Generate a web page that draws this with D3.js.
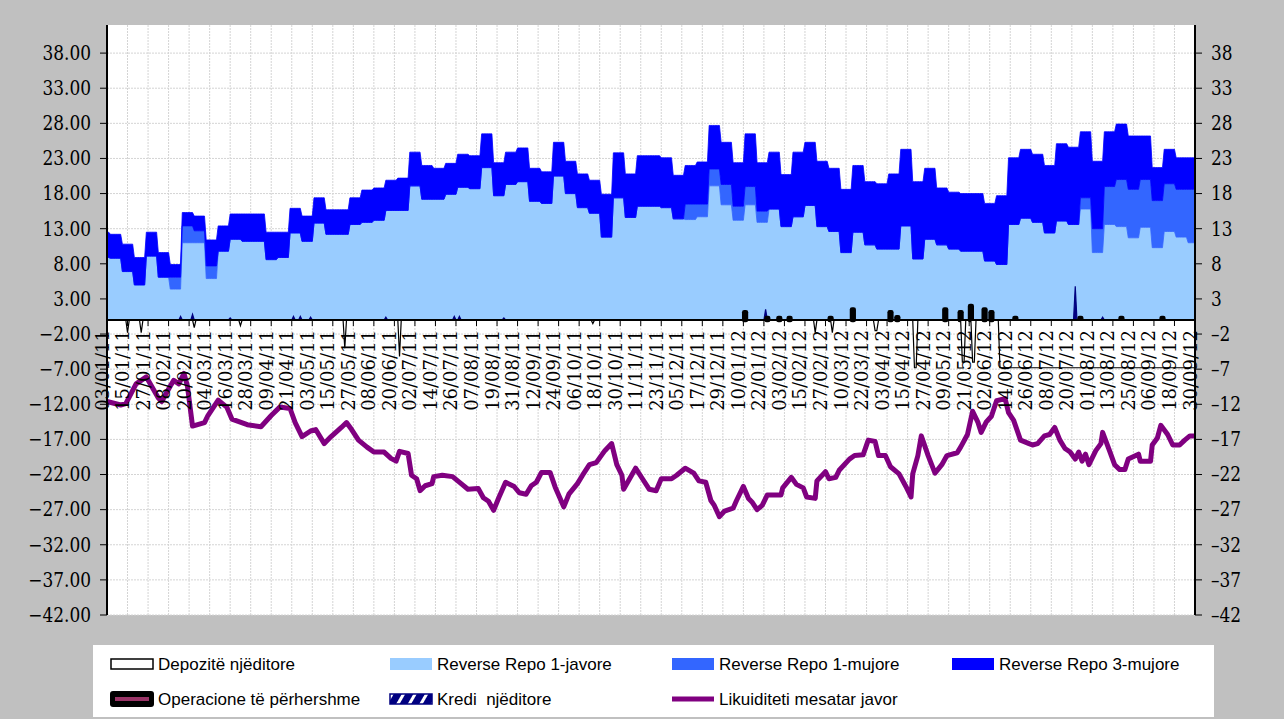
<!DOCTYPE html>
<html>
<head>
<meta charset="utf-8">
<script src="https://cdn.jsdelivr.net/npm/d3@7"></script>
<style>
  html, body { margin: 0; padding: 0; background: #c0c0c0; }
  svg { display: block; }
  .axis-num { font-family: "DejaVu Serif", serif; font-size: 17px; fill: #000; }
  .axis-date { font-family: "DejaVu Serif", serif; font-size: 18px; fill: #000; }
  .legend-text { font-family: "Liberation Sans", Arial, sans-serif; font-size: 17px; fill: #000; white-space: pre; }
</style>
</head>
<body>
<svg id="chart" width="1284" height="719"></svg>
<script>
// daily axis from 03/01/2011 to 30/09/2012, one value per week for the repo series
const startDate = new Date(2011, 0, 3);
const nDays = 637;
const labelStep = 12;
const yTicks = d3.range(-42, 39, 5);

// Reverse Repo 1-javore (weekly)
const repo1w = [8.9, 8.8, 6.9, 5.0, 9.1, 6.1, 4.4, 11.0, 11.0, 5.9,
  9.8, 11.5, 11.2, 11.2, 8.6, 8.9, 12.4, 11.2, 13.8, 12.2,
  12.2, 13.6, 13.9, 14.2, 15.6, 15.6, 19.1, 17.2, 17.2, 17.9,
  18.9, 18.7, 21.7, 17.7, 19.3, 19.7, 16.9, 16.6, 20.5, 18.0,
  16.0, 15.2, 11.8, 17.4, 14.6, 16.2, 16.2, 16.0, 14.4, 14.3,
  14.7, 19.1, 16.4, 14.2, 16.4, 13.9, 15.8, 13.3, 14.7, 16.3,
  13.3, 12.6, 9.6, 12.5, 10.7, 10.1, 10.1, 13.4, 8.7, 11.5,
  10.7, 10.1, 9.8, 9.8, 8.4, 7.9, 13.6, 14.5, 13.9, 12.4,
  14.1, 13.6, 15.8, 9.6, 13.6, 13.3, 11.7, 13.2, 10.3, 12.6,
  11.8, 11.0];

// Reverse Repo 1-mujore (weekly)
const repo1m = [0, 0, 0, 0, 0, 0, 1.7, 2.4, 1.7, 1.8,
  0, 0, 0, 0, 0, 0, 0, 0, 0, 0,
  0, 0, 0, 0, 0, 0, 0, 0, 0, 0,
  0, 0, 0, 0, 0, 0, 0, 0, 0, 0,
  0, 0, 0, 0, 0, 0, 0, 0, 0, 2.2,
  1.8, 2.4, 2.9, 2.0, 2.6, 1.6, 0, 0, 0, 0,
  0, 0, 0, 0, 0, 0, 0, 0, 0, 0,
  0, 0, 0, 0, 0, 0, 0, 0, 0, 0,
  0, 0, 1.6, 3.4, 5.4, 6.7, 6.9, 6.8, 6.7, 6.8,
  6.8, 7.6];

// Reverse Repo 3-mujore (weekly)
const repo3m = [3.6, 3.4, 3.9, 3.9, 3.4, 3.5, 1.8, 1.9, 2.1, 3.7,
  3.6, 3.6, 3.9, 3.9, 3.9, 3.6, 3.5, 3.6, 3.6, 3.5,
  3.5, 3.8, 4.6, 4.6, 4.3, 4.6, 4.8, 4.8, 4.4, 4.4,
  4.7, 4.7, 4.8, 4.7, 4.6, 4.8, 4.7, 4.5, 4.8, 4.6,
  4.8, 4.7, 6.1, 6.4, 6.2, 7.2, 7.2, 7.1, 6.2, 5.5,
  6.0, 6.2, 6.0, 6.2, 7.5, 6.9, 8.1, 7.4, 9.2, 9.0,
  9.3, 9.0, 9.0, 9.5, 9.0, 9.3, 10.7, 10.9, 11.0, 10.1,
  8.1, 8.1, 8.2, 8.2, 8.2, 9.8, 9.5, 9.8, 9.7, 9.6,
  11.0, 11.0, 9.4, 9.6, 7.8, 7.9, 7.6, 6.2, 4.7, 4.9,
  4.5, 4.5];

// Depozite njeditore: first day, last day, value
const depStart = [12, 20, 51, 78, 139, 171, 284, 414, 424, 449, 472, 500, 506, 522];
const depEnd   = [12, 20, 51, 78, 139, 171, 284, 414, 424, 450, 473, 501, 507, 636];
const depVal   = [-1.8, -1.8, -1.1, -0.8, -4.0, -5.2, -0.5, -1.8, -1.8, -1.5, -6.8, -6.0, -6.0, -6.8];

// Operacione te perhershme (day, value)
const opDay = [373, 386, 393, 399, 423, 436, 458, 462, 490, 499, 505, 513, 517, 531, 569, 593, 617];
const opVal = [1.1, 0.3, 0.3, 0.3, 0.3, 1.5, 1.1, 0.4, 1.5, 1.1, 2.0, 1.5, 1.1, 0.3, 0.3, 0.3, 0.3];

// Kredi njeditore (day, value)
const crDay = [43, 50, 72, 109, 113, 119, 163, 203, 206, 232, 385, 566, 582];
const crVal = [0.5, 0.8, 0.3, 0.5, 0.5, 0.4, 0.4, 0.5, 0.5, 0.3, 1.5, 4.8, 0.4];

// Likuiditeti mesatar javor (day, value)
const liqDay = [0, 8, 11, 17, 23, 30, 32, 37, 39, 42,
  45, 47, 50, 57, 59, 65, 70, 73, 82, 90,
  96, 101, 107, 110, 114, 119, 122, 127, 131, 137,
  140, 143, 147, 152, 156, 162, 166, 169, 171, 176,
  178, 181, 183, 186, 190, 191, 196, 202, 207, 211,
  217, 220, 223, 226, 229, 233, 238, 241, 245, 248,
  251, 254, 259, 262, 267, 270, 275, 278, 282, 286,
  291, 295, 298, 301, 302, 309, 313, 317, 321, 324,
  330, 333, 338, 343, 346, 350, 353, 355, 358, 361,
  366, 368, 372, 375, 377, 380, 383, 386, 394, 395,
  400, 403, 407, 409, 414, 415, 420, 422, 426, 428,
  434, 437, 442, 445, 449, 451, 455, 458, 463, 467,
  470, 471, 474, 476, 480, 484, 488, 491, 497, 499,
  503, 506, 509, 511, 514, 517, 520, 525, 527, 530,
  534, 539, 541, 544, 548, 551, 554, 557, 560, 563,
  566, 568, 570, 572, 574, 578, 581, 582, 586, 589,
  592, 595, 597, 603, 604, 610, 611, 614, 616, 620,
  623, 627, 630, 633, 636];
const liqVal = [-11.6, -12.1, -11.9, -9.1, -8.1, -11.1, -11.6, -9.4, -8.6, -9.1,
  -7.6, -9.4, -15.1, -14.6, -13.6, -11.4, -12.4, -14.1, -14.9, -15.2,
  -13.6, -12.4, -12.6, -14.6, -16.6, -15.8, -15.6, -17.6, -16.6, -15.3,
  -14.6, -15.6, -17.1, -18.1, -18.8, -18.8, -19.7, -20.1, -18.7, -19.0,
  -22.1, -22.6, -24.3, -23.6, -23.3, -22.3, -22.1, -22.3, -23.3, -24.1,
  -24.0, -25.3, -25.8, -27.1, -25.3, -23.1, -23.7, -24.6, -24.8, -23.6,
  -23.1, -21.7, -21.7, -23.8, -26.6, -24.8, -23.3, -22.1, -20.6, -20.3,
  -18.6, -17.6, -20.6, -22.1, -24.1, -21.1, -22.6, -24.1, -24.3, -22.6,
  -22.6, -22.1, -21.1, -21.8, -22.9, -23.1, -25.7, -26.4, -28.0, -27.2,
  -26.8, -25.7, -23.7, -25.4, -25.9, -27.0, -26.4, -24.9, -24.9, -23.9,
  -22.4, -23.4, -23.9, -25.2, -25.4, -22.9, -21.6, -22.6, -22.4, -21.4,
  -19.8, -19.3, -19.2, -17.1, -17.3, -19.3, -19.3, -20.9, -21.9, -23.7,
  -25.2, -21.9, -19.3, -16.5, -19.3, -21.8, -20.6, -19.3, -18.9, -18.1,
  -16.3, -13.0, -14.5, -16.0, -14.5, -13.7, -11.5, -11.2, -13.2, -14.3,
  -17.1, -17.6, -17.8, -17.6, -16.5, -16.3, -15.3, -17.1, -18.3, -18.8,
  -19.8, -18.8, -20.1, -19.1, -20.6, -18.6, -17.6, -16.0, -18.6, -20.6,
  -21.3, -21.3, -19.8, -19.1, -20.1, -20.1, -17.8, -16.8, -15.0, -16.3,
  -17.8, -17.8, -17.1, -16.5, -16.5];

const colors = {
    r1w: "#99ccff",
    r1m: "#3366ff",
    r3m: "#0000ff",
    liq: "#800080",
    credit: "#000080"
};

const legendItems = [
    {label: "Depozitë njëditore", type: "dep"},
    {label: "Reverse Repo 1-javore", type: "r1w"},
    {label: "Reverse Repo 1-mujore", type: "r1m"},
    {label: "Reverse Repo 3-mujore", type: "r3m"},
    {label: "Operacione të përhershme", type: "op"},
    {label: "Kredi  njëditore", type: "cr"},
    {label: "Likuiditeti mesatar javor", type: "liq"}
];

function draw() {
    const svg = d3.select("#chart");
    const fmt = d3.timeFormat("%d/%m/%y");

    const x = d3.scaleLinear().domain([0, nDays - 1]).range([107, 1195]);
    const y = d3.scaleLinear().domain([-42, 42]).range([615, 25]);

    // white plot area
    svg.append("rect")
        .attr("x", x(0)).attr("y", y(42))
        .attr("width", x(nDays - 1) - x(0))
        .attr("height", y(-42) - y(42))
        .attr("fill", "#fff");

    // grid
    const xTicks = d3.range(0, nDays, labelStep);
    svg.append("g").selectAll("line")
        .data(yTicks)
        .enter().append("line")
        .attr("x1", x(0)).attr("x2", x(nDays - 1))
        .attr("y1", d => y(d)).attr("y2", d => y(d))
        .attr("stroke", "#d4d4d4").attr("stroke-dasharray", "2,1");
    svg.append("g").selectAll("line")
        .data(xTicks.slice(1))
        .enter().append("line")
        .attr("x1", d => x(d)).attr("x2", d => x(d))
        .attr("y1", y(42)).attr("y2", y(-42))
        .attr("stroke", "#d4d4d4").attr("stroke-dasharray", "2,1");

    // daily rows for the stacked repo areas
    const rows = d3.range(nDays).map(d => {
        const w = Math.floor((d + 5) / 7);
        return {day: d, r1w: repo1w[w], r1m: repo1m[w], r3m: repo3m[w]};
    });
    const stack = d3.stack().keys(["r1w", "r1m", "r3m"]);
    const layers = stack(rows);
    const area = d3.area()
        .x(d => x(d.data.day))
        .y0(d => y(d[0]))
        .y1(d => y(d[1]));
    svg.append("g").selectAll("path")
        .data(layers)
        .enter().append("path")
        .attr("d", area)
        .attr("fill", d => colors[d.key])
        .attr("stroke", d => colors[d.key])
        .attr("stroke-width", 0.8);

    // spike style series: build small areas around each event
    const spike = d3.area()
        .x(d => x(d[0]))
        .y0(y(0))
        .y1(d => y(d[1]));

    // overnight credit
    svg.append("g").selectAll("path")
        .data(crDay.map((d, i) => [[d - 1, 0], [d, crVal[i]], [d + 1, 0]]))
        .enter().append("path")
        .attr("d", spike)
        .attr("fill", colors.credit)
        .attr("stroke", colors.credit)
        .attr("stroke-width", 1.2);

    // standing operations
    svg.append("g").selectAll("path")
        .data(opDay.map((d, i) => [[d - 0.5, 0], [d - 0.5, opVal[i]], [d + 0.5, opVal[i]], [d + 0.5, 0]]))
        .enter().append("path")
        .attr("d", spike)
        .attr("fill", "#000")
        .attr("stroke", "#000")
        .attr("stroke-width", 4.5)
        .attr("stroke-linejoin", "round");

    // overnight deposits (white with black outline)
    svg.append("g").selectAll("path")
        .data(depStart.map((s, i) => {
            const pts = [[s - 1, 0]];
            d3.range(s, depEnd[i] + 1).forEach(d => pts.push([d, depVal[i]]));
            if (depEnd[i] + 1 < nDays) pts.push([depEnd[i] + 1, 0]);
            return pts;
        }))
        .enter().append("path")
        .attr("d", spike)
        .attr("fill", "#fff")
        .attr("stroke", "#000")
        .attr("stroke-width", 1.2);

    // zero axis
    svg.append("line")
        .attr("x1", x(0)).attr("x2", x(nDays - 1))
        .attr("y1", y(0)).attr("y2", y(0))
        .attr("stroke", "#000").attr("stroke-width", 2);

    // x ticks
    svg.append("g").selectAll("line")
        .data(xTicks)
        .enter().append("line")
        .attr("x1", d => x(d)).attr("x2", d => x(d))
        .attr("y1", y(0)).attr("y2", y(0) + 6)
        .attr("stroke", "#000").attr("stroke-width", 1);

    // liquidity line
    const line = d3.line()
        .x(d => x(d[0]))
        .y(d => y(d[1]));
    svg.append("path")
        .datum(liqDay.map((d, i) => [d, liqVal[i]]))
        .attr("d", line)
        .attr("fill", "none")
        .attr("stroke", colors.liq)
        .attr("stroke-width", 5)
        .attr("stroke-linejoin", "round");

    // x labels
    svg.append("g").selectAll("text")
        .data(xTicks)
        .enter().append("text")
        .attr("class", "axis-date")
        .attr("text-anchor", "end")
        .attr("transform", d => `translate(${x(d) + 1.5},${y(0) + 10}) rotate(-90)`)
        .text(d => fmt(d3.timeDay.offset(startDate, d)));

    // y axes
    const leftAxis = svg.append("g");
    leftAxis.append("line")
        .attr("x1", x(0)).attr("x2", x(0))
        .attr("y1", y(42)).attr("y2", y(-42))
        .attr("stroke", "#000").attr("stroke-width", 2);
    leftAxis.selectAll("line.tick")
        .data(yTicks)
        .enter().append("line")
        .attr("class", "tick")
        .attr("x1", x(0) - 7).attr("x2", x(0))
        .attr("y1", d => y(d)).attr("y2", d => y(d))
        .attr("stroke", "#000");
    leftAxis.selectAll("text")
        .data(yTicks)
        .enter().append("text")
        .attr("class", "axis-num")
        .attr("text-anchor", "end")
        .attr("transform", d => `translate(${x(0) - 16},${y(d)}) scale(1,1.15)`)
        .attr("dy", "0.35em")
        .text(d => d3.format(".2f")(d).replace("-", "\u2013"));

    const rightAxis = svg.append("g");
    rightAxis.append("line")
        .attr("x1", x(nDays - 1)).attr("x2", x(nDays - 1))
        .attr("y1", y(42)).attr("y2", y(-42))
        .attr("stroke", "#000").attr("stroke-width", 2);
    rightAxis.selectAll("line.tick")
        .data(yTicks)
        .enter().append("line")
        .attr("class", "tick")
        .attr("x1", x(nDays - 1)).attr("x2", x(nDays - 1) + 7)
        .attr("y1", d => y(d)).attr("y2", d => y(d))
        .attr("stroke", "#000");
    rightAxis.selectAll("text")
        .data(yTicks)
        .enter().append("text")
        .attr("class", "axis-num")
        .attr("transform", d => `translate(${x(nDays - 1) + 16},${y(d)}) scale(1,1.15)`)
        .attr("dy", "0.35em")
        .text(d => String(d).replace("-", "\u2013"));

    // legend
    const legend = svg.append("g");
    legend.append("rect")
        .attr("x", 93).attr("y", 645)
        .attr("width", 1121).attr("height", 72)
        .attr("fill", "#fff");

    const defs = svg.append("defs");
    const pat = defs.append("pattern")
        .attr("id", "stripes")
        .attr("patternUnits", "userSpaceOnUse")
        .attr("width", 10).attr("height", 10)
        .attr("patternTransform", "rotate(30)");
    pat.append("rect").attr("width", 10).attr("height", 10).attr("fill", colors.credit);
    pat.append("rect").attr("x", 5).attr("width", 3).attr("height", 10).attr("fill", "#fff");

    const colX = [111, 390, 672, 952];
    const rowY = [664, 699];
    legendItems.forEach((item, i) => {
        const cx = colX[i % 4];
        const cy = rowY[Math.floor(i / 4)];
        const g = legend.append("g");
        if (item.type === "dep") {
            g.append("rect").attr("x", cx).attr("y", cy - 5).attr("width", 42).attr("height", 10)
                .attr("fill", "#fff").attr("stroke", "#000").attr("stroke-width", 1.5);
        } else if (item.type === "op") {
            g.append("rect").attr("x", cx - 1).attr("y", cy - 8).attr("width", 44).attr("height", 16)
                .attr("rx", 3).attr("fill", "#000");
            g.append("line").attr("x1", cx + 4).attr("x2", cx + 38).attr("y1", cy).attr("y2", cy)
                .attr("stroke", "#993366").attr("stroke-width", 4);
        } else if (item.type === "cr") {
            g.append("rect").attr("x", cx).attr("y", cy - 5).attr("width", 42).attr("height", 10)
                .attr("fill", "url(#stripes)").attr("stroke", colors.credit).attr("stroke-width", 1.5);
        } else if (item.type === "liq") {
            g.append("line").attr("x1", cx).attr("x2", cx + 42).attr("y1", cy).attr("y2", cy)
                .attr("stroke", colors.liq).attr("stroke-width", 5);
        } else {
            g.append("rect").attr("x", cx).attr("y", cy - 6).attr("width", 42).attr("height", 12)
                .attr("fill", colors[item.type]);
        }
        g.append("text")
            .attr("class", "legend-text")
            .attr("x", cx + 47)
            .attr("y", cy)
            .attr("dy", "0.35em")
            .text(item.label);
    });
}

document.addEventListener("DOMContentLoaded", function() {
    draw();
});
</script>
</body>
</html>
